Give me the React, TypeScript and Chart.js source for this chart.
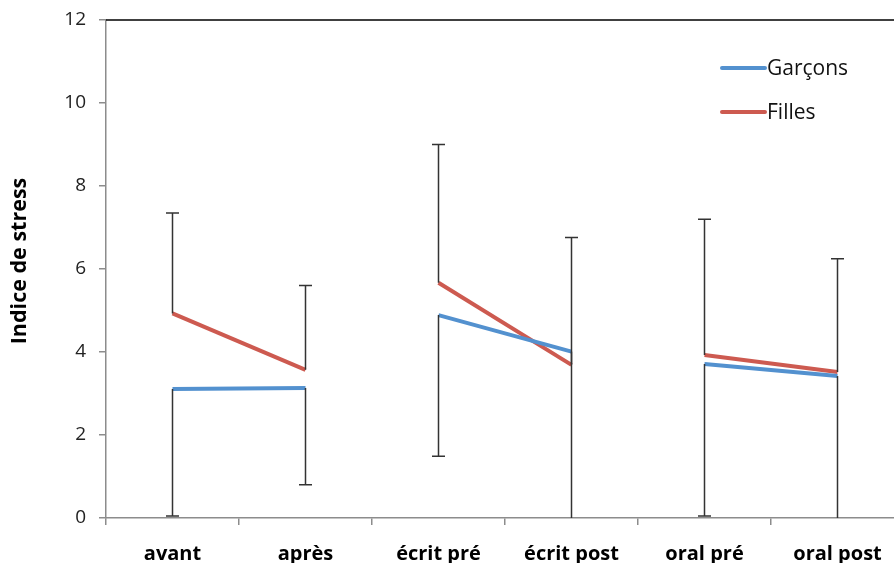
import React, { useEffect, useRef } from "react";
import { Chart, registerables } from "chart.js";

Chart.register(...registerables);

const categories = ["avant", "après", "écrit pré", "écrit post", "oral pré", "oral post"];
const garconsValues = [3.11, 3.13, 4.89, 4.01, 3.71, 3.42];
const fillesValues = [4.93, 3.57, 5.67, 3.69, 3.93, 3.52];
// Filles: error bars drawn upward (plus); Garçons: downward (minus)
const fillesErrPlus = [2.42, 2.03, 3.33, 3.07, 3.27, 2.73];
const garconsErrMinus = [3.06, 2.33, 3.4, 4.3, 3.66, 3.7];
const yTicks = [0, 2, 4, 6, 8, 10, 12];
const yTitle = "Indice de stress";

const BLUE = "#5391cf";
const RED = "#cd5a50";
const FONT = "'Open Sans', sans-serif";

const errorBarPlugin = {
  id: "errorBars",
  afterDatasetsDraw(chart: any) {
    const { ctx, chartArea } = chart;
    const xs = chart.scales.x;
    const ys = chart.scales.y;
    ctx.save();
    ctx.strokeStyle = "#333";
    ctx.lineWidth = 1.5;
    const cap = 6.5;
    const drawBar = (i: number, v: number, end: number) => {
      const x = xs.getPixelForValue(i);
      const y0 = ys.getPixelForValue(v);
      let y1 = ys.getPixelForValue(end);
      let clipped = false;
      if (y1 > chartArea.bottom) { y1 = chartArea.bottom; clipped = true; }
      if (y1 < chartArea.top) { y1 = chartArea.top; clipped = true; }
      ctx.beginPath();
      ctx.moveTo(x, y0);
      ctx.lineTo(x, y1);
      if (!clipped) {
        ctx.moveTo(x - cap, y1);
        ctx.lineTo(x + cap, y1);
      }
      ctx.stroke();
    };
    categories.forEach((_, i) => {
      drawBar(i, fillesValues[i], fillesValues[i] + fillesErrPlus[i]);
      drawBar(i, garconsValues[i], garconsValues[i] - garconsErrMinus[i]);
    });
    ctx.restore();
  },
};

const frameLegendPlugin = {
  id: "frameLegend",
  afterDraw(chart: any) {
    const { ctx, chartArea } = chart;
    ctx.save();
    // top border
    ctx.strokeStyle = "#000";
    ctx.lineWidth = 1.5;
    ctx.beginPath();
    ctx.moveTo(chartArea.left, chartArea.top);
    ctx.lineTo(chartArea.right, chartArea.top);
    ctx.stroke();
    // y title
    ctx.save();
    ctx.translate(20, chartArea.top + (chartArea.bottom - chartArea.top) / 2 - 8);
    ctx.rotate(-Math.PI / 2);
    ctx.font = `bold 21.5px ${FONT}`;
    ctx.fillStyle = "#000";
    ctx.textAlign = "center";
    ctx.textBaseline = "middle";
    ctx.fillText(yTitle, 0, 0);
    ctx.restore();
    // legend
    const lx = chartArea.right - 182;
    let ly = chartArea.top + 48;
    ctx.font = `21px ${FONT}`;
    ctx.textBaseline = "middle";
    ctx.textAlign = "left";
    chart.data.datasets.forEach((ds: any) => {
      ctx.strokeStyle = ds.borderColor;
      ctx.lineWidth = 4;
      ctx.lineCap = "round";
      ctx.beginPath();
      ctx.moveTo(lx, ly);
      ctx.lineTo(lx + 43, ly);
      ctx.stroke();
      ctx.fillStyle = "#111";
      ctx.fillText(ds.label, lx + 45, ly + 1);
      ly += 44;
    });
    ctx.restore();
  },
};

const segmentGap = (ctx: any) => (ctx.p0DataIndex % 2 === 1 ? "transparent" : undefined);

export default function App() {
  const ref = useRef<HTMLCanvasElement | null>(null);
  useEffect(() => {
    if (!ref.current) return;
    const chart = new Chart(ref.current, {
      type: "line",
      data: {
        labels: categories,
        datasets: [
          {
            label: "Garçons",
            data: garconsValues,
            borderColor: BLUE,
            backgroundColor: BLUE,
            borderWidth: 4,
            pointRadius: 0,
            tension: 0,
            segment: { borderColor: segmentGap },
          },
          {
            label: "Filles",
            data: fillesValues,
            borderColor: RED,
            backgroundColor: RED,
            borderWidth: 4,
            pointRadius: 0,
            tension: 0,
            segment: { borderColor: segmentGap },
          },
        ],
      },
      options: {
        responsive: false,
        animation: false,
        devicePixelRatio: 1,
        layout: { padding: { top: 20, right: 2, left: 0, bottom: 0 } },
        plugins: { legend: { display: false }, tooltip: { enabled: false } },
        scales: {
          x: {
            type: "category",
            offset: true,
            grid: { offset: true, drawOnChartArea: false, drawTicks: true, tickLength: 7, color: "#8c8c8c", lineWidth: 1.5 },
            border: { color: "#8c8c8c", width: 1.5 },
            ticks: { font: { family: FONT, size: 20, weight: "bold" }, color: "#000", padding: 17, maxRotation: 0, autoSkip: false },
            afterFit: (s: any) => { s.height = 45; s.paddingLeft = 0; s.paddingRight = 0; },
          },
          y: {
            min: 0,
            max: 12,
            afterBuildTicks: (s: any) => { s.ticks = yTicks.map((v) => ({ value: v })); },
            grid: { drawOnChartArea: false, drawTicks: true, tickLength: 7, color: "#8c8c8c", lineWidth: 1.5 },
            border: { color: "#8c8c8c", width: 1.5 },
            ticks: { font: { family: FONT, size: 19 }, color: "#222", padding: 13 },
            title: { display: false },
            afterFit: (s: any) => { s.width = 106; s.paddingTop = 0; s.paddingBottom = 0; },
          },
        },
      },
      plugins: [errorBarPlugin, frameLegendPlugin],
    });
    return () => chart.destroy();
  }, []);
  return (
    <div style={{ position: "fixed", left: 0, top: 0, width: 894, height: 563, overflow: "hidden", background: "#fff" }}>
      <canvas ref={ref} width={906} height={563} style={{ display: "block" }} />
    </div>
  );
}
